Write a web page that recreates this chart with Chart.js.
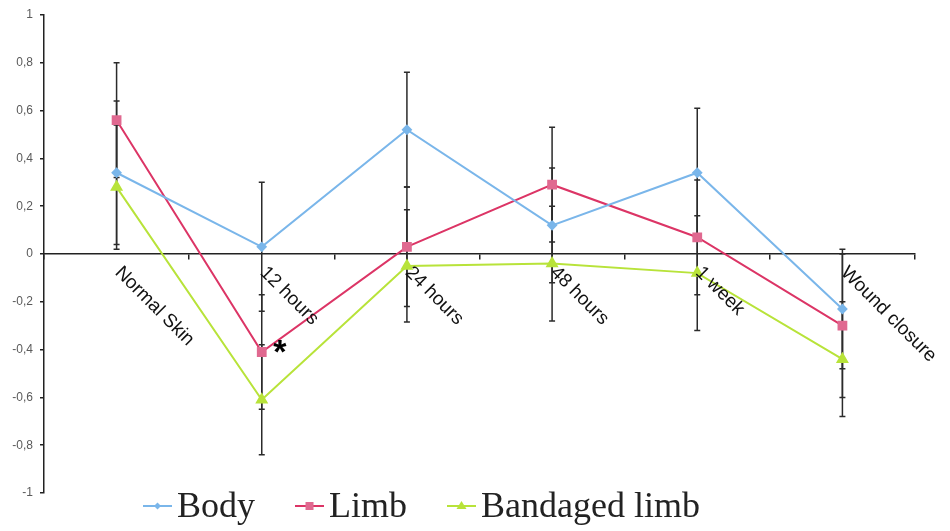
<!DOCTYPE html>
<html>
<head>
<meta charset="utf-8">
<script src="https://cdn.jsdelivr.net/npm/chart.js@4.4.0/dist/chart.umd.min.js"></script>
<style>
    html, body { margin: 0; padding: 0; background: #ffffff; }
    #wrap { width: 950px; height: 531px; position: relative; }
</style>
</head>
<body>
<div id="wrap"><canvas id="mainChart"></canvas></div>
<script>
// Данные графика
const categories = ['Normal Skin', '12 hours', '24 hours', '48 hours', '1 week', 'Wound closure'];
const seriesNames = ['Body', 'Limb', 'Bandaged limb'];

const bodyValues = [0.34, 0.03, 0.52, 0.12, 0.34, -0.23];
const limbValues = [0.56, -0.41, 0.03, 0.29, 0.07, -0.30];
const bandagedValues = [0.28, -0.61, -0.05, -0.04, -0.08, -0.44];

// Полуширина планок погрешности
const bodyErrors = [0.30, 0.27, 0.24, 0.24, 0.27, 0.25];
const limbErrors = [0.24, 0.24, 0.25, 0.24, 0.24, 0.30];
const bandagedErrors = [0.26, 0.23, 0.235, 0.24, 0.24, 0.24];

const yTickValues = [-1, -0.8, -0.6, -0.4, -0.2, 0, 0.2, 0.4, 0.6, 0.8, 1];

// Звёздочка (значимость) у точки Limb, 12 hours
const markSeries = 1;
const markIndex = 1;

const errorSets = [bodyErrors, limbErrors, bandagedErrors];

function formatTick(v) {
    return (Math.round(v * 10) / 10).toString().replace('.', ',');
}

// Планки погрешностей
const errorBarsPlugin = {
    id: 'errorBars',
    beforeDatasetsDraw(chart) {
        const ctx = chart.ctx;
        const yScale = chart.scales.y;
        ctx.save();
        ctx.strokeStyle = '#2b2b2b';
        ctx.lineWidth = 1.5;
        chart.data.datasets.forEach((ds, i) => {
            const meta = chart.getDatasetMeta(i);
            const errs = errorSets[i];
            meta.data.forEach((pt, j) => {
                const v = ds.data[j];
                const top = yScale.getPixelForValue(v + errs[j]);
                const bot = yScale.getPixelForValue(v - errs[j]);
                ctx.beginPath();
                ctx.moveTo(pt.x, top);
                ctx.lineTo(pt.x, bot);
                ctx.moveTo(pt.x - 3, top);
                ctx.lineTo(pt.x + 3, top);
                ctx.moveTo(pt.x - 3, bot);
                ctx.lineTo(pt.x + 3, bot);
                ctx.stroke();
            });
        });
        ctx.restore();
    }
};

// Подписи категорий под наклоном 45°
const categoryLabelsPlugin = {
    id: 'categoryLabels',
    afterDraw(chart) {
        const ctx = chart.ctx;
        const xScale = chart.scales.x;
        const y0 = chart.scales.y.getPixelForValue(0);
        ctx.save();
        ctx.fillStyle = '#111111';
        ctx.font = '19px "Liberation Sans", Arial, sans-serif';
        ctx.textAlign = 'left';
        ctx.textBaseline = 'top';
        categories.forEach((label, j) => {
            const x = xScale.getPixelForValue(j);
            ctx.save();
            ctx.translate(x + 8, y0 + 9);
            ctx.rotate(Math.PI / 4);
            ctx.fillText(label, 0, 0);
            ctx.restore();
        });

        // звёздочка
        const pt = chart.getDatasetMeta(markSeries).data[markIndex];
        ctx.font = 'bold 34px "Liberation Sans", Arial, sans-serif';
        ctx.textAlign = 'center';
        ctx.textBaseline = 'middle';
        ctx.fillStyle = '#000000';
        ctx.fillText('*', pt.x + 18, pt.y + 2);
        ctx.restore();
    }
};

// Легенда внизу
const legendPlugin = {
    id: 'bottomLegend',
    afterDraw(chart) {
        const ctx = chart.ctx;
        ctx.save();
        ctx.font = '36px "Liberation Serif", "Times New Roman", serif';
        ctx.textBaseline = 'alphabetic';
        let x = 143;
        const y = 506;
        chart.data.datasets.forEach((ds) => {
            ctx.strokeStyle = ds.borderColor;
            ctx.lineWidth = 2;
            ctx.beginPath();
            ctx.moveTo(x, y);
            ctx.lineTo(x + 29, y);
            ctx.stroke();
            const cx = x + 14.5;
            ctx.fillStyle = ds.pointBackgroundColor;
            ctx.beginPath();
            if (ds.pointStyle === 'rect') {
                ctx.rect(cx - 4, y - 4, 8, 8);
            } else if (ds.pointStyle === 'triangle') {
                ctx.moveTo(cx, y - 5);
                ctx.lineTo(cx + 5, y + 3);
                ctx.lineTo(cx - 5, y + 3);
                ctx.closePath();
            } else {
                ctx.moveTo(cx, y - 3.5);
                ctx.lineTo(cx + 3.5, y);
                ctx.lineTo(cx, y + 3.5);
                ctx.lineTo(cx - 3.5, y);
                ctx.closePath();
            }
            ctx.fill();
            ctx.fillStyle = '#222222';
            ctx.fillText(ds.label, x + 34, 517);
            x += 34 + ctx.measureText(ds.label).width + 40;
        });
        ctx.restore();
    }
};

function createMainChart() {
    const ctx = document.getElementById('mainChart');
    new Chart(ctx.getContext('2d'), {
        type: 'line',
        data: {
            labels: categories,
            datasets: [
                {
                    label: seriesNames[0],
                    data: bodyValues,
                    borderColor: '#7ab6ea',
                    backgroundColor: '#7ab6ea',
                    pointBackgroundColor: '#7ab6ea',
                    pointBorderColor: '#7ab6ea',
                    pointStyle: 'rectRot',
                    pointRadius: 4,
                    borderWidth: 2,
                    tension: 0
                },
                {
                    label: seriesNames[1],
                    data: limbValues,
                    borderColor: '#dc3566',
                    backgroundColor: '#e06990',
                    pointBackgroundColor: '#e06990',
                    pointBorderColor: '#e06990',
                    pointStyle: 'rect',
                    pointRadius: 5.5,
                    borderWidth: 2,
                    tension: 0
                },
                {
                    label: seriesNames[2],
                    data: bandagedValues,
                    borderColor: '#b8e33a',
                    backgroundColor: '#b8e33a',
                    pointBackgroundColor: '#b8e33a',
                    pointBorderColor: '#b8e33a',
                    pointStyle: 'triangle',
                    pointRadius: 5.5,
                    borderWidth: 2,
                    tension: 0
                }
            ]
        },
        options: {
            responsive: true,
            maintainAspectRatio: false,
            animation: false,
            layout: {
                padding: { left: 0, right: 35, top: 15, bottom: 38 }
            },
            scales: {
                x: {
                    type: 'category',
                    position: { y: 0 },
                    offset: true,
                    grid: {
                        display: true,
                        drawOnChartArea: false,
                        offset: true,
                        tickLength: 5,
                        color: '#222222',
                        lineWidth: 1.5
                    },
                    border: { color: '#222222', width: 1.5 },
                    ticks: { display: false }
                },
                y: {
                    min: -1,
                    max: 1,
                    afterFit(scale) { scale.width = 44; },
                    afterBuildTicks(scale) {
                        scale.ticks = yTickValues.map(v => ({ value: v }));
                    },
                    grid: {
                        drawOnChartArea: false,
                        tickLength: 4,
                        color: '#222222',
                        lineWidth: 1.5
                    },
                    border: { color: '#222222', width: 1.5 },
                    ticks: {
                        padding: 7,
                        color: '#5a5a5a',
                        font: { size: 12, family: '"Liberation Sans", Arial, sans-serif' },
                        callback: (v) => formatTick(v)
                    }
                }
            },
            plugins: {
                legend: { display: false },
                tooltip: { enabled: false }
            }
        },
        plugins: [errorBarsPlugin, categoryLabelsPlugin, legendPlugin]
    });
}

document.addEventListener('DOMContentLoaded', createMainChart);
</script>
</body>
</html>
